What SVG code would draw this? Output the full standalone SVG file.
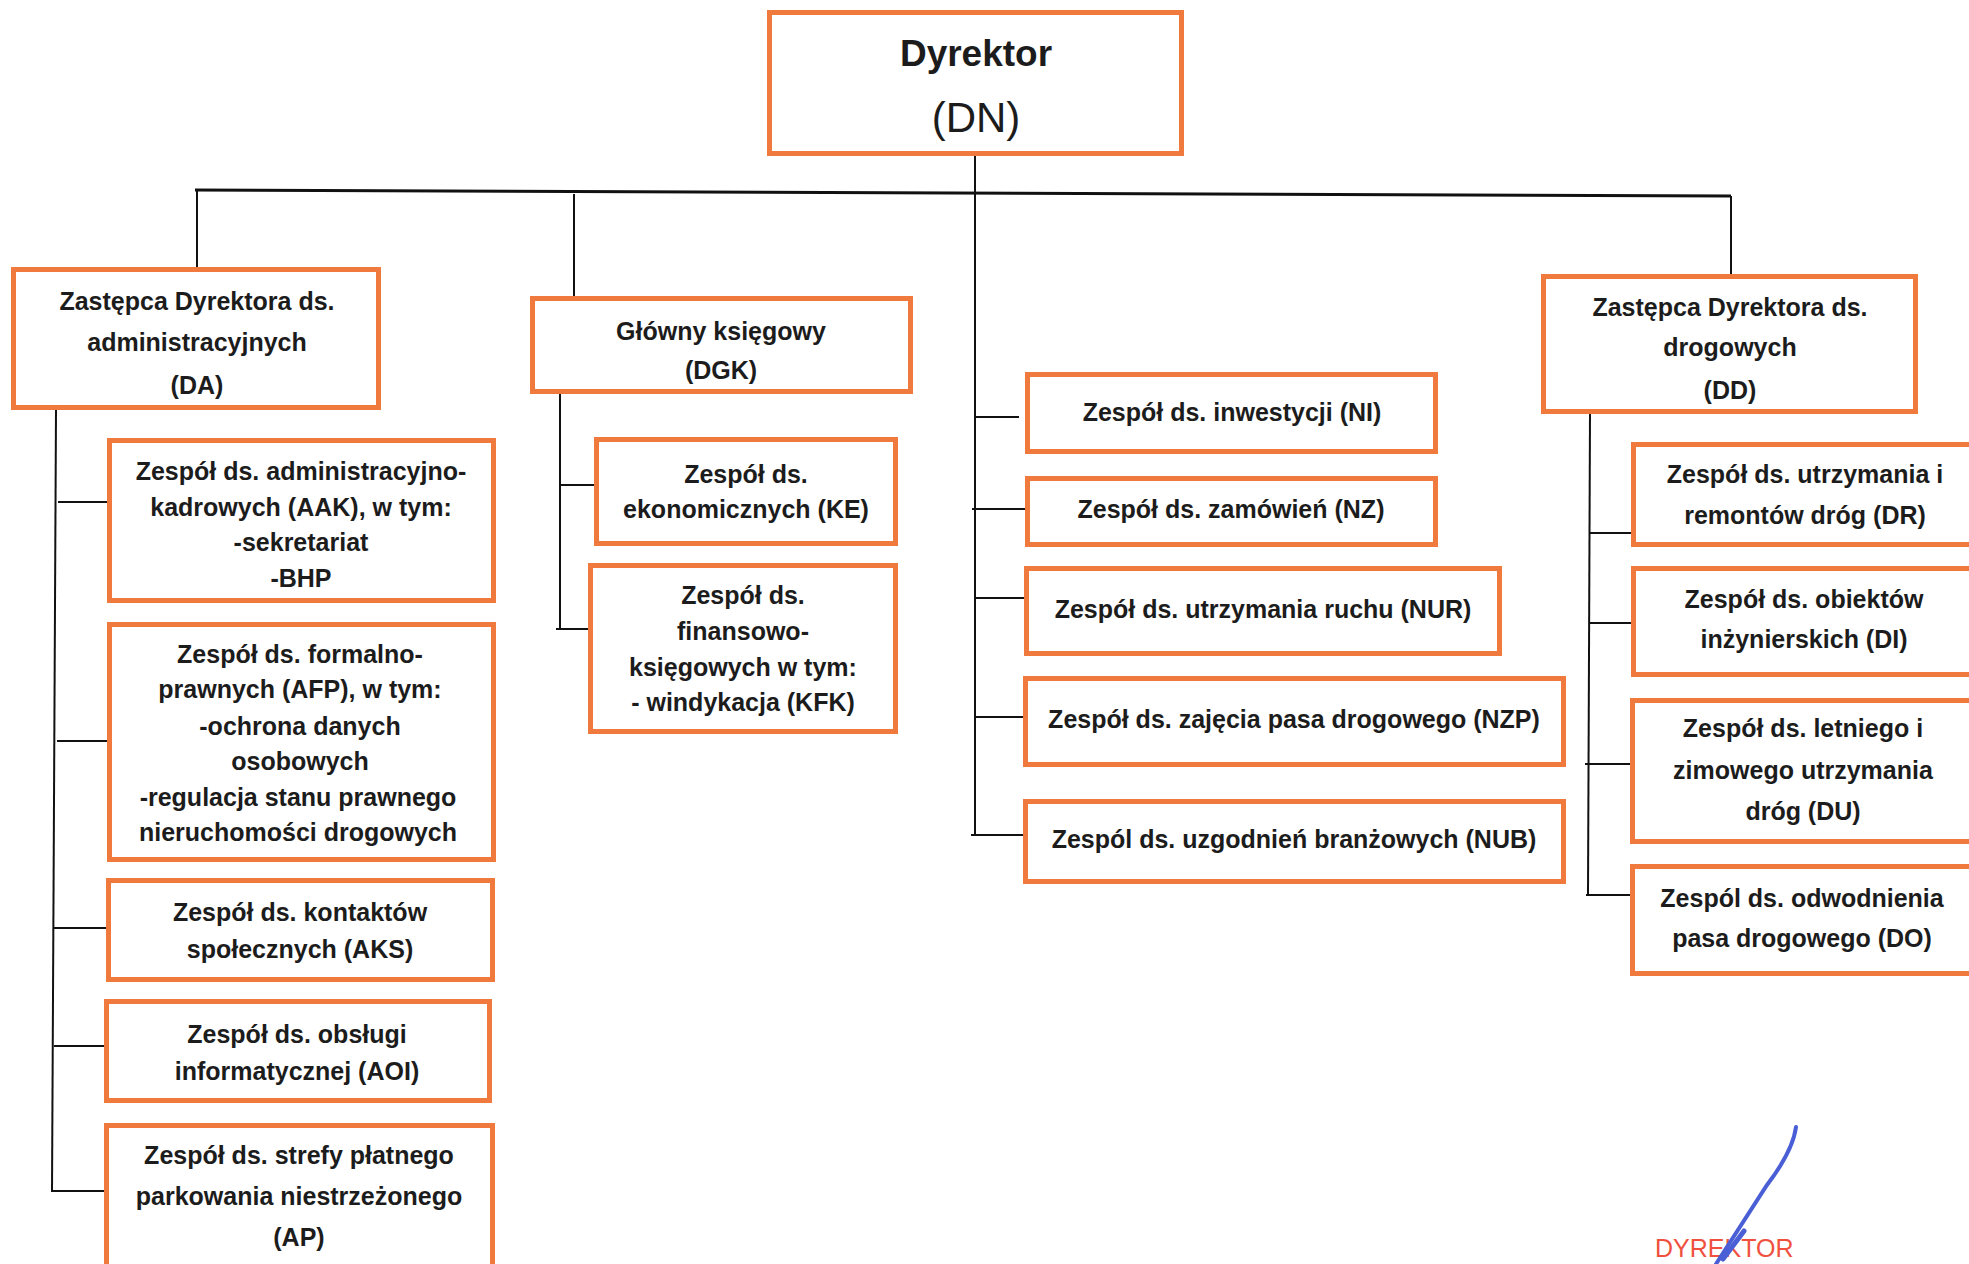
<svg xmlns="http://www.w3.org/2000/svg" width="1969" height="1264" viewBox="0 0 1969 1264">
<style>
.box{fill:#fff;stroke:#F07A3E;stroke-width:5}
.t{font-family:"Liberation Sans",Arial,sans-serif;font-weight:bold;font-size:25px;fill:#1c1c1c;text-anchor:middle}
.c{stroke:#111;stroke-width:2;fill:none}
</style>
<rect width="1969" height="1264" fill="#fff"/>
<g id="connectors">
<line class="c" x1="975" y1="156" x2="975" y2="836"/>
<line class="c" x1="195" y1="190" x2="1731" y2="196" style="stroke-width:3"/>
<line class="c" x1="197" y1="190" x2="197" y2="267"/>
<line class="c" x1="574" y1="194" x2="574" y2="296"/>
<line class="c" x1="1731" y1="196" x2="1731" y2="274"/>
<line class="c" x1="56" y1="410" x2="52" y2="1192"/>
<line class="c" x1="58" y1="502" x2="107" y2="502"/>
<line class="c" x1="57" y1="741" x2="107" y2="741"/>
<line class="c" x1="54" y1="928" x2="107" y2="928"/>
<line class="c" x1="54" y1="1046" x2="108" y2="1046"/>
<line class="c" x1="51" y1="1191" x2="104" y2="1191"/>
<line class="c" x1="560" y1="394" x2="560" y2="630"/>
<line class="c" x1="560" y1="485" x2="594" y2="485"/>
<line class="c" x1="556" y1="629" x2="588" y2="629"/>
<line class="c" x1="975" y1="417" x2="1019" y2="417"/>
<line class="c" x1="972" y1="509" x2="1025" y2="509"/>
<line class="c" x1="975" y1="598" x2="1025" y2="598"/>
<line class="c" x1="975" y1="717" x2="1023" y2="717"/>
<line class="c" x1="971" y1="835" x2="1023" y2="835"/>
<line class="c" x1="1590" y1="414" x2="1588" y2="895"/>
<line class="c" x1="1590" y1="533" x2="1631" y2="533"/>
<line class="c" x1="1590" y1="623" x2="1631" y2="623"/>
<line class="c" x1="1585" y1="764" x2="1636" y2="764"/>
<line class="c" x1="1586" y1="895" x2="1630" y2="895"/>
</g>
<g id="DN"><rect class="box" x="769.5" y="12.5" width="412" height="141"/>
<text class="t" x="976" y="66" style="font-size:37px">Dyrektor</text>
<text class="t" x="976" y="132" style="font-size:42px;font-weight:normal">(DN)</text></g>
<g id="DA"><rect class="box" x="13.5" y="269.5" width="365" height="138"/>
<text class="t" x="197" y="310">Zastępca Dyrektora ds.</text>
<text class="t" x="197" y="351">administracyjnych</text>
<text class="t" x="197" y="394">(DA)</text></g>
<g id="DGK"><rect class="box" x="532.5" y="298.5" width="378" height="93"/>
<text class="t" x="721" y="340">Główny księgowy</text>
<text class="t" x="721" y="379">(DGK)</text></g>
<g id="DD"><rect class="box" x="1543.5" y="276.5" width="372" height="135"/>
<text class="t" x="1730" y="316">Zastępca Dyrektora ds.</text>
<text class="t" x="1730" y="356">drogowych</text>
<text class="t" x="1730" y="399">(DD)</text></g>
<g id="AAK"><rect class="box" x="109.5" y="440.5" width="384" height="160"/>
<text class="t" x="301" y="480">Zespół ds. administracyjno-</text>
<text class="t" x="301" y="516">kadrowych (AAK), w tym:</text>
<text class="t" x="301" y="551">-sekretariat</text>
<text class="t" x="301" y="587">-BHP</text></g>
<g id="AFP"><rect class="box" x="109.5" y="624.5" width="384" height="235"/>
<text class="t" x="300" y="663">Zespół ds. formalno-</text>
<text class="t" x="300" y="698">prawnych (AFP), w tym:</text>
<text class="t" x="300" y="735">-ochrona danych</text>
<text class="t" x="300" y="770">osobowych</text>
<text class="t" x="298" y="806">-regulacja stanu prawnego</text>
<text class="t" x="298" y="841">nieruchomości drogowych</text></g>
<g id="AKS"><rect class="box" x="108.5" y="880.5" width="384" height="99"/>
<text class="t" x="300" y="921">Zespół ds. kontaktów</text>
<text class="t" x="300" y="958">społecznych (AKS)</text></g>
<g id="AOI"><rect class="box" x="106.5" y="1001.5" width="383" height="99"/>
<text class="t" x="297" y="1043">Zespół ds. obsługi</text>
<text class="t" x="297" y="1080">informatycznej (AOI)</text></g>
<g id="AP"><rect class="box" x="106.5" y="1125.5" width="386" height="160"/>
<text class="t" x="299" y="1164">Zespół ds. strefy płatnego</text>
<text class="t" x="299" y="1205">parkowania niestrzeżonego</text>
<text class="t" x="299" y="1246">(AP)</text></g>
<g id="KE"><rect class="box" x="596.5" y="439.5" width="299" height="104"/>
<text class="t" x="746" y="483">Zespół ds.</text>
<text class="t" x="746" y="518">ekonomicznych (KE)</text></g>
<g id="KFK"><rect class="box" x="590.5" y="565.5" width="305" height="166"/>
<text class="t" x="743" y="604">Zespół ds.</text>
<text class="t" x="743" y="640">finansowo-</text>
<text class="t" x="743" y="676">księgowych w tym:</text>
<text class="t" x="743" y="711">- windykacja (KFK)</text></g>
<g id="NI"><rect class="box" x="1027.5" y="374.5" width="408" height="77"/>
<text class="t" x="1232" y="421">Zespół ds. inwestycji (NI)</text></g>
<g id="NZ"><rect class="box" x="1027.5" y="478.5" width="408" height="66"/>
<text class="t" x="1231" y="518">Zespół ds. zamówień (NZ)</text></g>
<g id="NUR"><rect class="box" x="1026.5" y="568.5" width="473" height="85"/>
<text class="t" x="1263" y="618">Zespół ds. utrzymania ruchu (NUR)</text></g>
<g id="NZP"><rect class="box" x="1025.5" y="678.5" width="538" height="86"/>
<text class="t" x="1294" y="728">Zespół ds. zajęcia pasa drogowego (NZP)</text></g>
<g id="NUB"><rect class="box" x="1025.5" y="801.5" width="538" height="80"/>
<text class="t" x="1294" y="848">Zespól ds. uzgodnień branżowych (NUB)</text></g>
<g id="DR"><rect class="box" x="1633.5" y="444.5" width="360" height="100"/>
<text class="t" x="1805" y="483">Zespół ds. utrzymania i</text>
<text class="t" x="1805" y="524">remontów dróg (DR)</text></g>
<g id="DI"><rect class="box" x="1633.5" y="568.5" width="360" height="106"/>
<text class="t" x="1804" y="608">Zespół ds. obiektów</text>
<text class="t" x="1804" y="648">inżynierskich (DI)</text></g>
<g id="DU"><rect class="box" x="1632.5" y="700.5" width="360" height="141"/>
<text class="t" x="1803" y="737">Zespół ds. letniego i</text>
<text class="t" x="1803" y="779">zimowego utrzymania</text>
<text class="t" x="1803" y="820">dróg (DU)</text></g>
<g id="DO"><rect class="box" x="1632.5" y="866.5" width="360" height="107"/>
<text class="t" x="1802" y="907">Zespól ds. odwodnienia</text>
<text class="t" x="1802" y="947">pasa drogowego (DO)</text></g>
<g id="stamp">
<text x="1655" y="1257" style="font-family:'Liberation Sans',Arial,sans-serif;font-size:25px;fill:#F0503E">DYREKTOR</text>
<path d="M1796 1127 C1794 1142 1786 1160 1767 1185 L1716 1264" fill="none" stroke="#4A5FD6" stroke-width="4" stroke-linecap="round"/>
<path d="M1744 1231 L1723 1259" fill="none" stroke="#4A5FD6" stroke-width="5" stroke-linecap="round"/>
</g>
</svg>
